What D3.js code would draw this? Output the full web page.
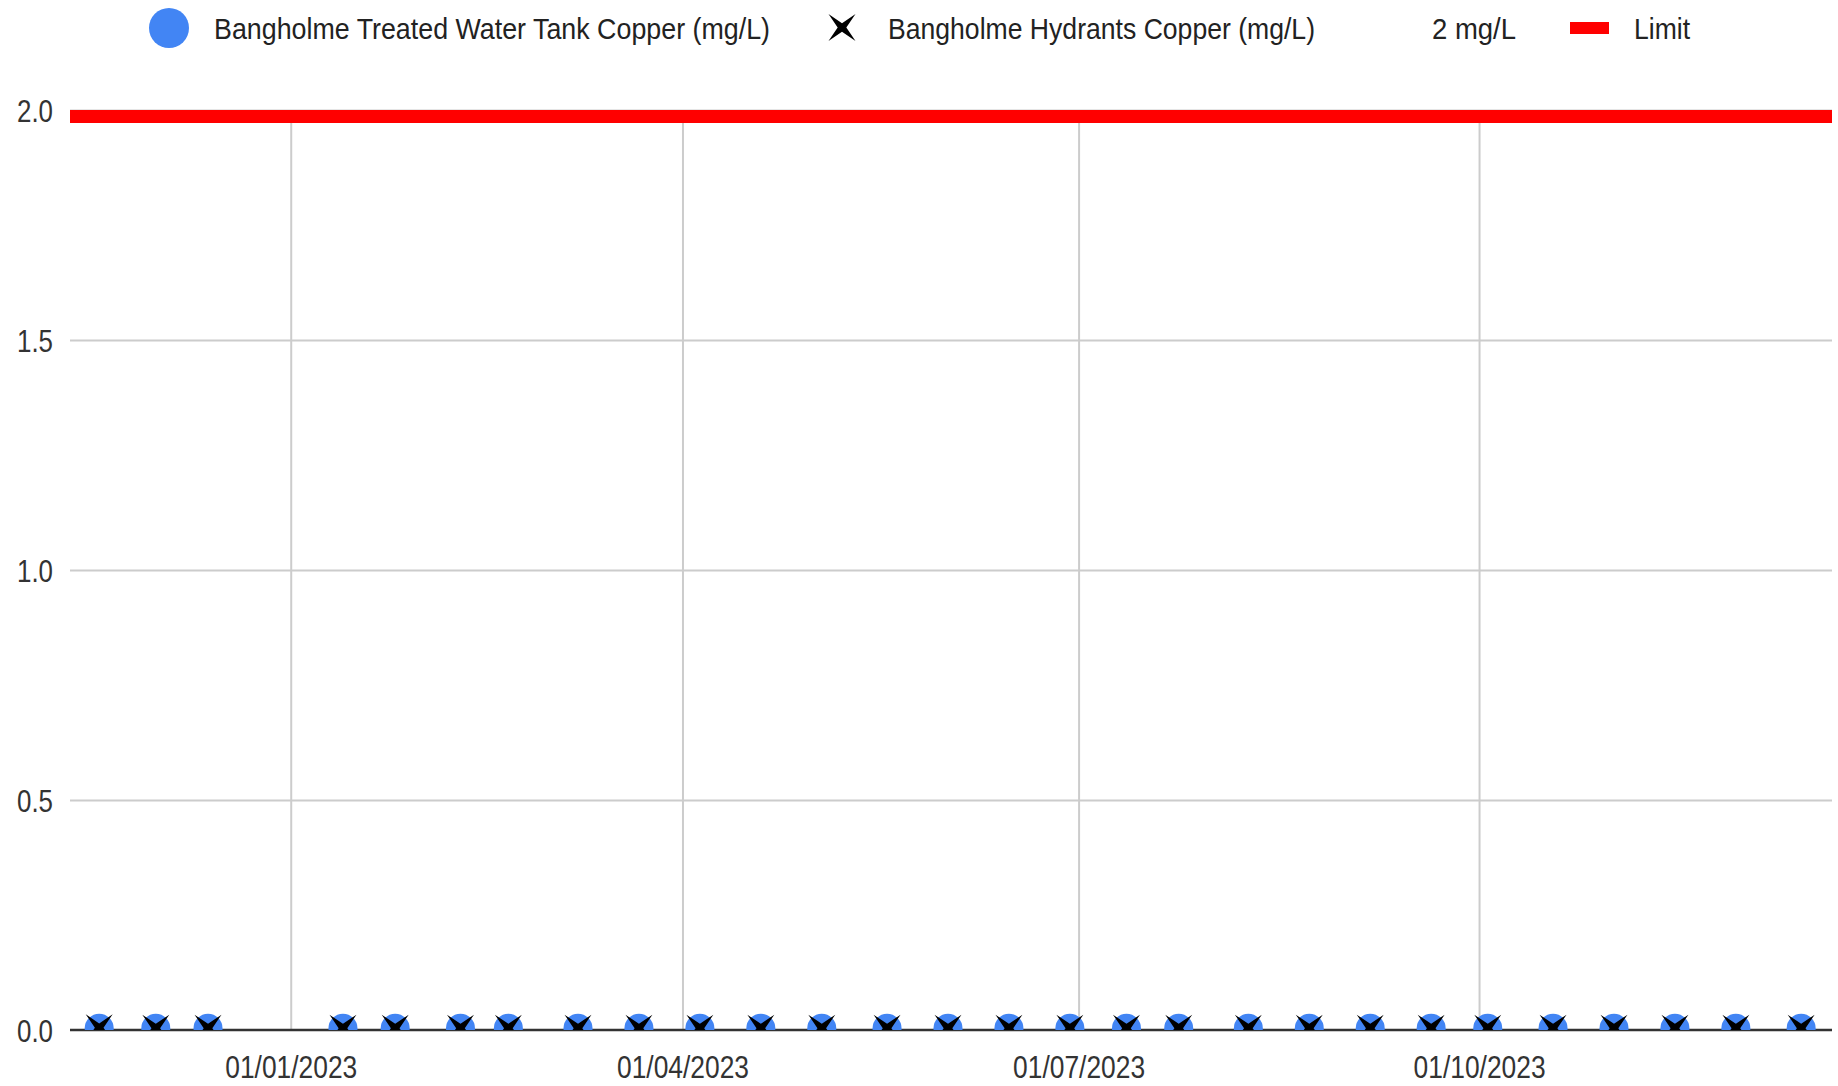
<!DOCTYPE html>
<html>
<head>
<meta charset="utf-8">
<script src="https://cdn.jsdelivr.net/npm/d3@7"></script>
<style>
	body { margin: 0; background: #fff; }
	svg { display: block; font-family: "Liberation Sans", Arial, sans-serif; }
</style>
</head>
<body>
<svg width="1838" height="1086"></svg>
<script>
// Sampling dates (both series share them)
var sample_dates = [
	'2022-11-18', '2022-12-01', '2022-12-13', '2023-01-13', '2023-01-25', '2023-02-09', '2023-02-20',
	'2023-03-08', '2023-03-22', '2023-04-05', '2023-04-19', '2023-05-03', '2023-05-18', '2023-06-01',
	'2023-06-15', '2023-06-29', '2023-07-12', '2023-07-24', '2023-08-09', '2023-08-23', '2023-09-06',
	'2023-09-20', '2023-10-03', '2023-10-18', '2023-11-01', '2023-11-15', '2023-11-29', '2023-12-14'
];
var tank_copper = [
	0.004, 0.004, 0.004, 0.004, 0.004, 0.004, 0.004,
	0.004, 0.004, 0.004, 0.004, 0.004, 0.004, 0.004,
	0.004, 0.004, 0.004, 0.004, 0.004, 0.004, 0.004,
	0.004, 0.004, 0.004, 0.004, 0.004, 0.004, 0.004
];
var hydrant_copper = [
	0.005, 0.004, 0.004, 0.004, 0.004, 0.004, 0.004,
	0.004, 0.004, 0.004, 0.004, 0.004, 0.004, 0.004,
	0.004, 0.004, 0.004, 0.004, 0.004, 0.004, 0.004,
	0.004, 0.004, 0.004, 0.004, 0.004, 0.004, 0.004
];
var limit_value = 2;
var y_ticks = [0, 0.5, 1, 1.5, 2];
var x_ticks = ['2023-01-01', '2023-04-01', '2023-07-01', '2023-10-01'];
var legend_labels = ['Bangholme Treated Water Tank Copper (mg/L)', 'Bangholme Hydrants Copper (mg/L)', '2 mg/L', 'Limit'];

var parse = d3.timeParse('%Y-%m-%d');
var fmt = d3.timeFormat('%d/%m/%Y');

var plot_left = 70, plot_right = 1832, plot_top = 110, plot_bottom = 1030;
var font_size = 31;
var point_radius = 14.5;
var star_size = 13.5;
var blue = '#4285f4';
var text_color = '#333';
var font = '"Liberation Sans", Arial, sans-serif';

var svg = d3.select('svg');

var x = d3.scaleTime()
	.domain([new Date(2022, 10, 11, 7), new Date(2023, 11, 21, 2)])
	.range([plot_left, plot_right]);
var y = d3.scaleLinear()
	.domain([0, 2])
	.range([plot_bottom, plot_top]);

svg.append('defs').append('clipPath')
	.attr('id', 'plot')
	.append('rect')
	.attr('x', plot_left)
	.attr('y', plot_top)
	.attr('width', plot_right - plot_left)
	.attr('height', plot_bottom - plot_top);

function star(s)
{
	var i = s * 0.32;
	return `M ${-s} ${-s} L 0 ${-i} L ${s} ${-s} L ${i} 0 L ${s} ${s} L 0 ${i} L ${-s} ${s} L ${-i} 0 Z`;
}

// squeeze text to the condensed look of the original
function squeeze(sel, w)
{
	sel.attr('textLength', w).attr('lengthAdjust', 'spacingAndGlyphs');
}

// Gridlines
var yGrid = svg.append('g')
	.attr('transform', 'translate(' + plot_left + ',0)')
	.call(d3.axisLeft(y).tickValues(y_ticks.filter(d => d > 0)).tickSize(-(plot_right - plot_left)).tickFormat(''));
yGrid.select('.domain').remove();
yGrid.selectAll('line').attr('stroke', '#cccccc').attr('stroke-width', 2);

var xGrid = svg.append('g')
	.attr('transform', 'translate(0,' + plot_bottom + ')')
	.call(d3.axisBottom(x).tickValues(x_ticks.map(parse)).tickSize(-(plot_bottom - plot_top)).tickFormat(''));
xGrid.select('.domain').remove();
xGrid.selectAll('line').attr('stroke', '#cccccc').attr('stroke-width', 2);

// Axis labels
var yAxis = svg.append('g')
	.attr('transform', 'translate(' + (plot_left - 17) + ',0)')
	.call(d3.axisLeft(y).tickValues(y_ticks).tickSize(0).tickPadding(0).tickFormat(d3.format('.1f')));
yAxis.select('.domain').remove();
yAxis.selectAll('text')
	.attr('font-family', font)
	.attr('font-size', font_size)
	.attr('fill', text_color)
	.attr('dy', '0.36em')
	.call(squeeze, 36);

var xAxis = svg.append('g')
	.attr('transform', 'translate(0,' + plot_bottom + ')')
	.call(d3.axisBottom(x).tickValues(x_ticks.map(parse)).tickSize(0).tickPadding(0).tickFormat(fmt));
xAxis.select('.domain').remove();
xAxis.selectAll('text')
	.attr('font-family', font)
	.attr('font-size', font_size)
	.attr('fill', text_color)
	.attr('y', 48)
	.attr('dy', 0)
	.call(squeeze, 132);

// Baseline
svg.append('line')
	.attr('x1', plot_left).attr('x2', plot_right)
	.attr('y1', y(0)).attr('y2', y(0))
	.attr('stroke', '#333').attr('stroke-width', 2.5);

var plot = svg.append('g').attr('clip-path', 'url(#plot)');

// Limit line
plot.append('line')
	.attr('x1', plot_left).attr('x2', plot_right)
	.attr('y1', y(limit_value)).attr('y2', y(limit_value))
	.attr('stroke', '#ff0000').attr('stroke-width', 26);

// Points
var dates = sample_dates.map(parse);
plot.selectAll('.tank')
	.data(tank_copper)
	.enter().append('circle')
	.attr('class', 'tank')
	.attr('cx', (d, i) => x(dates[i]))
	.attr('cy', d => y(d))
	.attr('r', point_radius)
	.attr('fill', blue);

plot.selectAll('.hydrant')
	.data(hydrant_copper)
	.enter().append('path')
	.attr('class', 'hydrant')
	.attr('transform', (d, i) => 'translate(' + x(dates[i]) + ',' + y(d) + ')')
	.attr('d', star(star_size))
	.attr('fill', '#000');

// Legend
var legend = svg.append('g')
	.attr('font-family', font)
	.attr('font-size', 30)
	.attr('fill', '#222');
legend.append('circle').attr('cx', 169).attr('cy', 28).attr('r', 20).attr('fill', blue);
legend.append('text').attr('x', 214).attr('y', 39).text(legend_labels[0]).call(squeeze, 556);
legend.append('path').attr('transform', 'translate(842,27.5)').attr('d', star(star_size)).attr('fill', '#000');
legend.append('text').attr('x', 888).attr('y', 39).text(legend_labels[1]).call(squeeze, 427);
legend.append('text').attr('x', 1432).attr('y', 39).text(legend_labels[2]).call(squeeze, 84);
legend.append('rect').attr('x', 1570).attr('y', 22).attr('width', 39).attr('height', 12).attr('fill', '#ff0000');
legend.append('text').attr('x', 1634).attr('y', 39).text(legend_labels[3]).call(squeeze, 56);
</script>
</body>
</html>
